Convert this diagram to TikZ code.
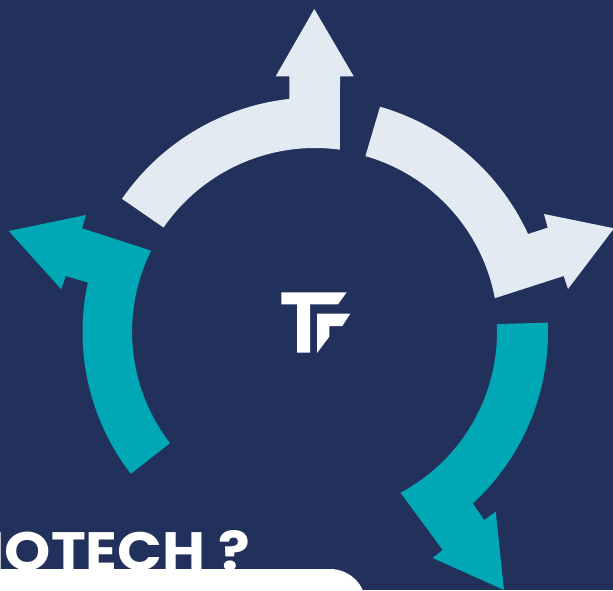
\documentclass[tikz,border=0pt]{standalone}
\usetikzlibrary{calc}
\usepackage{fontspec}
\setmainfont{Poppins}
\definecolor{navy}{HTML}{22315C}
\definecolor{teal2}{HTML}{00A8B5}
\definecolor{pale}{HTML}{E3EAF1}
% pixel coordinates, y downward -> y upward via 590-y
\def\P(#1,#2){({#1},{590-#2})}
\tikzset{x=1pt,y=1pt,
  arrowshape/.style={line join=miter,draw=none}}
\begin{document}
\begin{tikzpicture}
\useasboundingbox (0,0) rectangle (613,590);
\clip (0,0) rectangle (613,590);
\fill[navy] (0,0) rectangle (613,590);
\coordinate (c) at (315,258);
% heading
\node[anchor=base east,inner sep=0pt,text=white,xscale=1.09,font=\fontsize{54}{54}\selectfont\bfseries] (head) at (250,20) {IOTECH ?};
% white panel
\fill[white] (-10,-10) -- (-10,21) -- (330,21) arc[start angle=90,end angle=0,radius=36] -- (366,-10) -- cycle;
% top arrow
\fill[pale,arrowshape] ($(c)+(96.3:234.5)$) arc[start angle=96.3,end angle=145.4,radius=234.5]
  -- ($(c)+(145.4:184)$) arc[start angle=145.4,end angle=82.2,radius=184]
  -- \P(340,76.3) -- \P(353.7,76.3) -- \P(314.3,9) -- \P(275.7,76.3) -- \P(289.3,76.3) -- cycle;
% right arrow
\fill[pale,arrowshape] ($(c)+(73.9:234.5)$) arc[start angle=73.9,end angle=24.7,radius=234.5]
  -- \P(547.7,227.7) -- \P(544,214) -- \P(614,228.3) -- \P(568,289) -- \P(563.7,276)
  -- ($(c)+(10.65:183)$) arc[start angle=10.65,end angle=74,radius=183] -- cycle;
% lower right arrow
\fill[teal2,arrowshape] ($(c)+(2.3:233)$) arc[start angle=2.3,end angle=-47.4,radius=233]
  -- \P(484.3,520) -- \P(495.7,511.7) -- \P(504,590) -- \P(432.7,558) -- \P(442.7,550)
  -- ($(c)+(-62:182)$) arc[start angle=-62,end angle=2.5,radius=182] -- cycle;
% left arrow
\fill[teal2,arrowshape] ($(c)+(217.6:232.5)$) arc[start angle=217.6,end angle=167.7,radius=232.5]
  -- \P(65.7,276) -- \P(61.3,289.3) -- \P(8.7,231) -- \P(86,215) -- \P(82,228.3)
  -- ($(c)+(153.6:183)$) arc[start angle=153.6,end angle=217.6,radius=182.5] -- cycle;
% logo
\fill[white] \P(281.3,292.3) -- \P(346.7,292.3) -- \P(338,304.3) -- \P(310,304.3) -- \P(310,352.7) -- \P(297,352.7) -- \P(297,304.3) -- \P(281.3,304.3) -- cycle;
\fill[white] \P(317,313.7) -- \P(350.3,313.7) -- \P(342.3,326) -- \P(329.3,326) -- \P(329.3,336.7) -- \P(317,353) -- cycle;
\end{tikzpicture}
\end{document}
